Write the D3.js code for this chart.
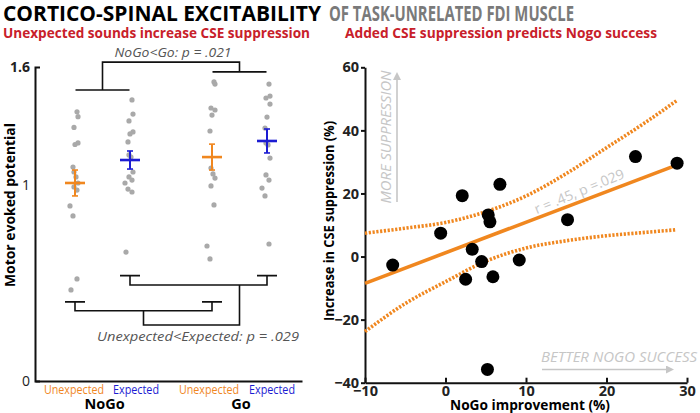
<!DOCTYPE html>
<html><head><meta charset="utf-8">
<script src="https://cdn.jsdelivr.net/npm/d3@7"></script>
<style>body{margin:0;background:#fff} svg{display:block;font-family:"Open Sans",sans-serif}</style>
</head><body><svg id="c" width="700" height="413"></svg>
<script>
// ---------------- DATA ----------------
const groups = ["NoGo", "Go"];
const conditions = ["Unexpected", "Expected"];
const mepNoGoUnexpected = [1.372,1.347,1.292,1.213,1.205,1.090,1.065,1.040,1.009,0.989,0.973,0.892,0.841,0.520,0.464];
const mepNoGoExpected   = [1.432,1.360,1.325,1.269,1.259,1.218,1.152,1.141,1.065,1.040,1.024,1.009,0.978,0.963,0.657];
const mepGoUnexpected   = [1.524,1.513,1.391,1.381,1.355,1.274,1.085,1.055,1.034,0.994,0.897,0.688,0.622];
const mepGoExpected     = [1.513,1.452,1.442,1.411,1.345,1.289,1.213,1.203,1.136,1.050,1.024,0.983,0.943,0.698];
const meanMEP = [1.009, 1.126, 1.141, 1.223];
const semMEP  = [0.066, 0.046, 0.066, 0.061];
const leftYTicks = [0, 1, 1.6];

const nogoImprovement = [-6.56,-0.60,2.08,2.50,3.32,4.49,5.31,5.52,5.21,5.89,6.76,9.16,15.16,23.6,28.77];
const cseIncrease     = [-2.7,7.4,19.3,-7.2,2.3,-1.6,13.2,11.0,-35.8,-6.4,22.9,-1.1,11.7,31.7,29.6];
const fitX = [-10, 28.7];
const fitY = [-8.5, 29.0];
const bandX     = [-10, -5, 0, 5, 10, 15, 20, 25, 28.7];
const bandUpper = [7.4, 9.0, 10.8, 14.2, 19.2, 26.3, 34.5, 42.8, 49.4];
const bandLower = [-23.8, -14.9, -8.0, -1.5, 2.7, 5.0, 6.6, 7.7, 8.5];
const rightXTicks = [-10, 0, 10, 20, 30];
const rightYTicks = [-40, -20, 0, 20, 40, 60];

// ---------------- STYLE ----------------
const ORANGE = "#f0871f", BLUE = "#1c1cd2", GRAY = "#a9a9a9", RED = "#c8202a", LIGHT = "#c6c6c6";
const svg = d3.select("#c");
const defs = svg.append("defs");
defs.append("marker").attr("id","arr").attr("viewBox","0 0 10 10").attr("refX",5).attr("refY",5)
  .attr("markerWidth",5).attr("markerHeight",5).attr("orient","auto")
  .append("path").attr("d","M0,0L10,5L0,10z").attr("fill",LIGHT);

// ---------------- TITLES ----------------
svg.append("text").attr("x",3).attr("y",21).attr("font-size",22).attr("font-weight",700)
  .attr("textLength",318).attr("lengthAdjust","spacingAndGlyphs").text("CORTICO-SPINAL EXCITABILITY");
svg.append("text").attr("x",329).attr("y",21).attr("font-size",22).attr("font-weight",700).attr("fill","#7a7a7a")
  .attr("textLength",245).attr("lengthAdjust","spacingAndGlyphs").text("OF TASK-UNRELATED FDI MUSCLE");
svg.append("text").attr("x",3).attr("y",38).attr("font-size",14.5).attr("font-weight",700).attr("fill",RED)
  .attr("textLength",307).attr("lengthAdjust","spacingAndGlyphs").text("Unexpected sounds increase CSE suppression");
svg.append("text").attr("x",345).attr("y",38).attr("font-size",14.5).attr("font-weight",700).attr("fill",RED)
  .attr("textLength",312).attr("lengthAdjust","spacingAndGlyphs").text("Added CSE suppression predicts Nogo success");

// ---------------- LEFT PANEL ----------------
const yL = d3.scaleLinear().domain([0, 1.6]).range([381, 67]);
const xG = d3.scalePoint().domain(groups).range([102.5, 239.5]);
const xC = d3.scalePoint().domain(conditions).range([-27.5, 27.5]);
const cells = [
  {g:"NoGo", c:"Unexpected", vals:mepNoGoUnexpected},
  {g:"NoGo", c:"Expected",   vals:mepNoGoExpected},
  {g:"Go",   c:"Unexpected", vals:mepGoUnexpected},
  {g:"Go",   c:"Expected",   vals:mepGoExpected}
];
cells.forEach((d,i)=>{ d.x = xG(d.g)+xC(d.c); d.mean = meanMEP[i]; d.sem = semMEP[i]; d.col = d.c==="Unexpected"?ORANGE:BLUE; });

const L = svg.append("g");
const axL = d3.axisLeft(yL).tickValues(leftYTicks).tickSizeInner(0).tickSizeOuter(-5).tickPadding(5)
  .tickFormat(d=>d===1.6?"1.6":d3.format("d")(d));
const gAxL = L.append("g").attr("transform","translate(35,0)").call(axL);
gAxL.select(".domain").attr("stroke","#111").attr("stroke-width",2);
gAxL.selectAll("text").attr("font-size",14).attr("fill","#222").attr("font-family","Open Sans")
  .attr("font-weight",d=>d===1.6?700:400);
const xLine = d3.scaleLinear().domain([0,1]).range([35,302]);
const gAxLx = L.append("g").attr("transform","translate(0,381)").call(d3.axisBottom(xLine).tickValues([]).tickSizeOuter(0));
gAxLx.select(".domain").attr("stroke","#111").attr("stroke-width",2);

L.append("text").attr("transform","translate(15,205) rotate(-90)").attr("text-anchor","middle")
  .attr("font-size",13.5).attr("font-weight",700).attr("textLength",164).attr("lengthAdjust","spacingAndGlyphs")
  .text("Motor evoked potential");

const labOff = [-1, 6, -3, 5];
cells.forEach((d,i)=>{
  L.append("text").attr("x",d.x+labOff[i]).attr("y",394).attr("text-anchor","middle")
    .attr("font-size",12).attr("fill",d.col).attr("textLength",d.c==="Unexpected"?60:46)
    .attr("lengthAdjust","spacingAndGlyphs").text(d.c);
});
groups.forEach(g=>{
  L.append("text").attr("x",xG(g)+ (g==="NoGo"?2:1.5)).attr("y",409).attr("text-anchor","middle")
    .attr("font-size",14.5).attr("font-weight",700).text(g);
});

const jit = [2,3,-1,3,0,-2,-1,1,3,-1,2,-5,-2,2,-4,1];
cells.forEach(d=>{
  L.append("g").selectAll("circle").data(d.vals).join("circle")
    .attr("cx",(v,i)=>d.x+jit[i%jit.length]).attr("cy",v=>yL(v)).attr("r",2.6).attr("fill",GRAY);
});
cells.forEach(d=>{
  const g = L.append("g").attr("stroke",d.col);
  g.append("line").attr("x1",d.x).attr("x2",d.x).attr("y1",yL(d.mean-d.sem)).attr("y2",yL(d.mean+d.sem)).attr("stroke-width",2);
  [d.mean-d.sem, d.mean+d.sem].forEach(v=>g.append("line").attr("x1",d.x-3).attr("x2",d.x+3).attr("y1",yL(v)).attr("y2",yL(v)).attr("stroke-width",1.6));
  g.append("line").attr("x1",d.x-10).attr("x2",d.x+10).attr("y1",yL(d.mean)).attr("y2",yL(d.mean)).attr("stroke-width",2.6);
});

const bk = L.append("g").attr("stroke","#111").attr("stroke-width",1.6).attr("fill","none");
const yTop = yL(1.625), yNoGo = yL(1.483), yGo = yL(1.575);
bk.append("path").attr("d",`M${xG("NoGo")-27},${yNoGo}H${xG("NoGo")+27}M${xG("NoGo")},${yNoGo}V${yTop}H${xG("Go")}V${yGo}M${xG("Go")-27},${yGo}H${xG("Go")+27}`);
L.append("text").attr("x",173).attr("y",57).attr("text-anchor","middle").attr("font-size",13.5).attr("font-style","italic")
  .attr("fill","#555").attr("textLength",117).attr("lengthAdjust","spacingAndGlyphs").text("NoGo<Go: p = .021");

const uA = cells[0].x, uB = cells[2].x, eA = cells[1].x, eB = cells[3].x;
const yUc = yL(0.403), yUh = yL(0.358), yEc = yL(0.537), yEh = yL(0.489), yBot = yL(0.285);
const uMid = (uA+uB)/2, eStem = xG("Go");
bk.append("path").attr("d",
  `M${uA-10},${yUc}H${uA+10}M${uA},${yUc}V${yUh}H${uB}V${yUc}M${uB-10},${yUc}H${uB+10}` +
  `M${eA-10},${yEc}H${eA+10}M${eA},${yEc}V${yEh}H${eB}V${yEc}M${eB-10},${yEc}H${eB+10}` +
  `M${uMid},${yUh}V${yBot}H${eStem}V${yEh}`);
L.append("text").attr("x",198).attr("y",341).attr("text-anchor","middle").attr("font-size",13.5).attr("font-style","italic")
  .attr("fill","#555").attr("textLength",202).attr("lengthAdjust","spacingAndGlyphs").text("Unexpected<Expected: p = .029");

// ---------------- RIGHT PANEL ----------------
const xR = d3.scaleLinear().domain([-10, 30]).range([365, 687]);
const yR = d3.scaleLinear().domain([-40, 60]).range([382.7, 67.3]);
const R = svg.append("g");

const gYR = R.append("g").attr("transform","translate(365,0)")
  .call(d3.axisLeft(yR).tickValues(rightYTicks).tickSizeInner(4).tickSizeOuter(0).tickPadding(2));
const gXR = R.append("g").attr("transform","translate(0,382.7)")
  .call(d3.axisBottom(xR).tickValues(rightXTicks).tickSizeInner(-5).tickSizeOuter(0).tickPadding(3));
[gYR,gXR].forEach(a=>{
  a.select(".domain").attr("stroke","#111").attr("stroke-width",2);
  a.selectAll(".tick line").attr("stroke","#111").attr("stroke-width",2);
  a.selectAll("text").attr("font-size",14.5).attr("font-weight",700).attr("fill","#222").attr("font-family","Open Sans");
});

R.append("text").attr("transform","translate(334,221) rotate(-90)").attr("text-anchor","middle")
  .attr("font-size",15).attr("font-weight",700).attr("textLength",200).attr("lengthAdjust","spacingAndGlyphs")
  .text("Increase in CSE suppression (%)");
R.append("text").attr("x",530).attr("y",410).attr("text-anchor","middle")
  .attr("font-size",14.5).attr("font-weight",700).attr("textLength",160).attr("lengthAdjust","spacingAndGlyphs")
  .text("NoGo improvement (%)");

R.append("text").attr("transform","translate(391,137) rotate(-90)").attr("text-anchor","middle")
  .attr("font-size",14).attr("font-style","italic").attr("fill",LIGHT).attr("textLength",133).attr("lengthAdjust","spacingAndGlyphs")
  .text("MORE SUPPRESSION");
R.append("line").attr("x1",397).attr("x2",397).attr("y1",202).attr("y2",76).attr("stroke",LIGHT).attr("stroke-width",1.6).attr("marker-end","url(#arr)");
R.append("text").attr("x",541).attr("y",362).attr("font-size",14).attr("font-style","italic").attr("fill",LIGHT)
  .attr("textLength",156).attr("lengthAdjust","spacingAndGlyphs").text("BETTER NOGO SUCCESS");
R.append("line").attr("x1",542).attr("x2",670).attr("y1",369.5).attr("y2",369.5).attr("stroke",LIGHT).attr("stroke-width",1.6).attr("marker-end","url(#arr)");

const bandPts = bandX.map((x,i)=>({x, u:bandUpper[i], l:bandLower[i]}));
const lineU = d3.line().x(d=>xR(d.x)).y(d=>yR(d.u)).curve(d3.curveMonotoneX);
const lineLo = d3.line().x(d=>xR(d.x)).y(d=>yR(d.l)).curve(d3.curveMonotoneX);
[lineU, lineLo].forEach(ln=>R.append("path").datum(bandPts).attr("d",ln).attr("fill","none")
  .attr("stroke",ORANGE).attr("stroke-width",3.6).attr("stroke-dasharray","2.2,1.6"));
R.append("line").attr("x1",xR(fitX[0])).attr("y1",yR(fitY[0])).attr("x2",xR(fitX[1])).attr("y2",yR(fitY[1]))
  .attr("stroke",ORANGE).attr("stroke-width",3.6);
R.append("g").selectAll("circle").data(nogoImprovement.map((x,i)=>[x,cseIncrease[i]])).join("circle")
  .attr("cx",d=>xR(d[0])).attr("cy",d=>yR(d[1])).attr("r",6.5).attr("fill","#000");
R.append("text").attr("transform","translate(581,196) rotate(-22.5)").attr("text-anchor","middle")
  .attr("font-size",14).attr("fill",LIGHT).text("r = .45, p =.029");
</script></body></html>
